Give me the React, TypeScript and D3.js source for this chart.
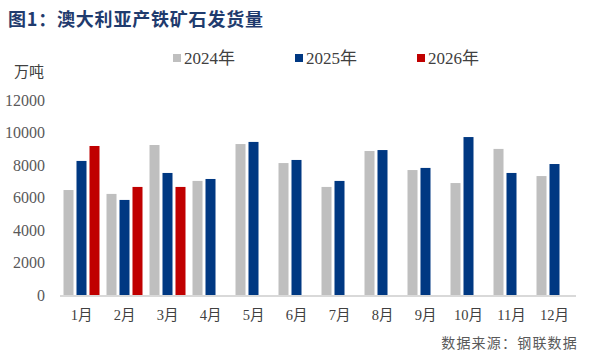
import React from "react";
import * as d3 from "d3";

const months = ["1月","2月","3月","4月","5月","6月","7月","8月","9月","10月","11月","12月"];
const seriesNames = ["2024年","2025年","2026年"];
const seriesColors = ["#bfbfbf","#003882","#c00000"];
const values2024 = [6460,6220,9230,7020,9290,8120,6650,8860,7690,6890,8990,7320];
const values2025 = [8250,5850,7510,7140,9420,8310,7020,8920,7820,9720,7510,8060];
const values2026 = [9170,6650,6650,null,null,null,null,null,null,null,null,null];
const yTicks = [0,2000,4000,6000,8000,10000,12000];

const W = 591, H = 355;

export default function App() {
  const allSeries = [values2024, values2025, values2026];
  const x = d3.scaleBand<string>().domain(months).range([60, 576]).paddingInner(0).paddingOuter(0);
  const xs = d3.scaleBand<string>().domain(seriesNames).range([3.5, x.bandwidth() - 3.5]).paddingInner(0.23);
  const y = d3.scaleLinear().domain([0, 12000]).range([295, 100]);
  const numFont = "Liberation Serif, Times New Roman, serif";
  const cjkFont = "Liberation Serif, Noto Sans CJK SC, serif";
  return (
    <svg width={W} height={H} style={{ position: "absolute", left: 0, top: 0, background: "#fff" }}>
      <text x={8} y={26} fontSize={18} letterSpacing={0.8} fontWeight="bold" fill="#1f3b6e" fontFamily="Noto Sans CJK SC, sans-serif">图1：澳大利亚产铁矿石发货量</text>
      {seriesNames.map((s, i) => {
        const lx = [173, 295, 417][i];
        return (
          <g key={s}>
            <rect x={lx} y={54} width={8} height={8} fill={seriesColors[i]} />
            <text x={lx + 11} y={64} fontSize={17} fill="#404040" fontFamily={cjkFont}>{s}</text>
          </g>
        );
      })}
      <text x={14} y={77} fontSize={15} fill="#404040" fontFamily={cjkFont}>万吨</text>
      {yTicks.map(t => (
        <text key={t} x={45} y={y(t) + 5.5} textAnchor="end" fontSize={16} fill="#595959" fontFamily={numFont}>{t}</text>
      ))}
      {allSeries.map((vals, si) => (
        <g key={si}>
          {vals.map((v, mi) => v == null ? null : (
            <rect key={mi} x={(x(months[mi]) as number) + (xs(seriesNames[si]) as number)} y={y(v)} width={xs.bandwidth()} height={y(0) - y(v)} fill={seriesColors[si]} />
          ))}
        </g>
      ))}
      <line x1={60} x2={576} y1={296} y2={296} stroke="#d9d9d9" strokeWidth={2} />
      {months.map(m => (
        <text key={m} x={(x(m) as number) + x.bandwidth() / 2} y={320} textAnchor="middle" fontSize={14.5} fill="#404040" fontFamily={cjkFont}>{m}</text>
      ))}
      <text x={578} y={348} textAnchor="end" fontSize={14} letterSpacing={1.2} fill="#595959" fontFamily={cjkFont}>数据来源：钢联数据</text>
    </svg>
  );
}
